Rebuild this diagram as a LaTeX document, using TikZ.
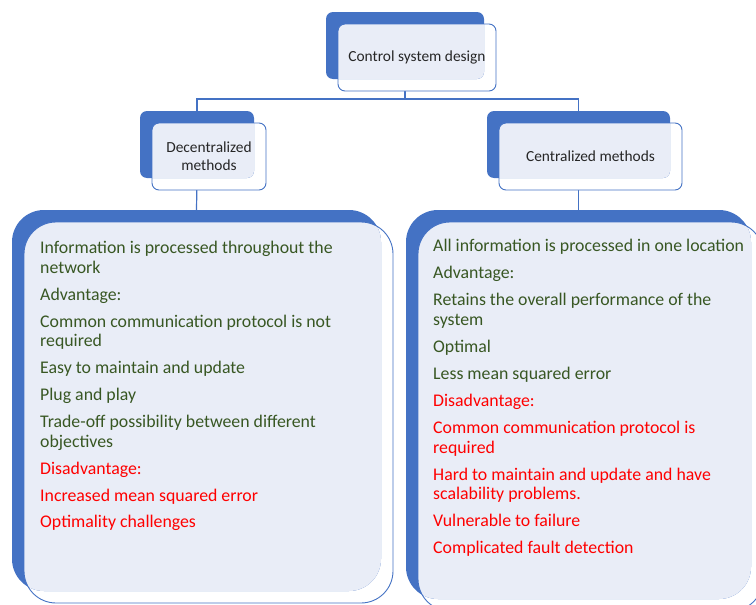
\documentclass[tikz,border=0pt]{standalone}
\usepackage{fontspec}
\setmainfont{Carlito}
\usetikzlibrary{calc}
\definecolor{accent}{HTML}{4472C4}
\definecolor{panel}{HTML}{E9EDF7}
\definecolor{pro}{HTML}{385723}
\definecolor{con}{HTML}{FF0000}
\definecolor{ink}{HTML}{262626}

\tikzset{
  box/.style={rectangle, inner sep=0pt, outer sep=0pt},
  link/.style={draw=accent, line width=1.2pt},
  outline/.style={draw=accent, line width=0.9pt},
  label/.style={inner sep=0pt, text=ink, align=center, font=\fontsize{15.4}{18}\selectfont},
  item/.style={anchor=base west, inner sep=0pt, font=\fontsize{17.8}{19.5}\selectfont},
  good/.style={item, text=pro},
  bad/.style={item, text=con},
}

% back card, panel-coloured overlap with the front card, and the front outline
\newcommand{\cardlayers}[3]{%
  \fill[accent, rounded corners=#3] (#1.north west) rectangle (#1.south east);
  \begin{scope}
    \clip[rounded corners=#3] (#1.north west) rectangle (#1.south east);
    \fill[panel, rounded corners=#3] (#2.north west) rectangle (#2.south east);
  \end{scope}
  \draw[outline, rounded corners=#3] (#2.north west) rectangle (#2.south east);
}

\begin{document}
\begin{tikzpicture}[x=1pt, y=-1pt]
\useasboundingbox (0,0) rectangle (756,605);

% shape geometry (named nodes, drawn later in layers)
\node[box, minimum width=158pt, minimum height=67pt, anchor=north west] (top-b) at (326,12) {};
\node[box, minimum width=158pt, minimum height=67pt, anchor=north west] (top-f) at (338,24) {};
\node[box, minimum width=114pt, minimum height=67pt, anchor=north west] (dec-b) at (140,111) {};
\node[box, minimum width=114pt, minimum height=67pt, anchor=north west] (dec-f) at (152,123) {};
\node[box, minimum width=183pt, minimum height=67pt, anchor=north west] (cen-b) at (487,111) {};
\node[box, minimum width=183pt, minimum height=67pt, anchor=north west] (cen-f) at (499,123) {};
\node[box, minimum width=369pt, minimum height=381pt, anchor=north west] (left-b) at (12,210) {};
\node[box, minimum width=369pt, minimum height=381pt, anchor=north west] (left-f) at (24,222) {};
\node[box, minimum width=345pt, minimum height=389pt, anchor=north west] (right-b) at (406,210) {};
\node[box, minimum width=345pt, minimum height=389pt, anchor=north west] (right-f) at (418,222) {};

% connectors
\coordinate (bus) at ($(top-b.south)+(0,20)$);
\draw[link] (top-b.south) -- (bus) -| (dec-b.north);
\draw[link] (bus) -| (cen-b.north);
\draw[link] (dec-b.south) -- (left-b.north);
\draw[link] (cen-b.south) -- (right-b.north);

% white ground of the front cards hides the connector ends
\foreach \f/\r in {top-f/7pt, dec-f/7pt, cen-f/7pt, left-f/32pt, right-f/32pt}
  \fill[white, rounded corners=\r] (\f.north west) rectangle (\f.south east);

\cardlayers{top-b}{top-f}{7pt}
\cardlayers{dec-b}{dec-f}{7pt}
\cardlayers{cen-b}{cen-f}{7pt}
\cardlayers{left-b}{left-f}{32pt}
\cardlayers{right-b}{right-f}{32pt}

% card titles
\node[label] (top-t) at (top-f.center) {Control system design};
\node[label] (dec-t) at (dec-f.center) {Decentralized\\methods};
\node[label] (cen-t) at (cen-f.center) {Centralized methods};

% decentralized methods
\node[good] (l1)  at (40,253.5) {Information is processed throughout the};
\node[good] (l2)  at (40,273)   {network};
\node[good] (l3)  at (40,300)   {Advantage:};
\node[good] (l4)  at (40,327)   {Common communication protocol is not};
\node[good] (l5)  at (40,346.5) {required};
\node[good] (l6)  at (40,373.5) {Easy to maintain and update};
\node[good] (l7)  at (40,400.5) {Plug and play};
\node[good] (l8)  at (40,427.5) {Trade-off possibility between different};
\node[good] (l9)  at (40,447)   {objectives};
\node[bad]  (l10) at (40,474)   {Disadvantage:};
\node[bad]  (l11) at (40,501)   {Increased mean squared error};
\node[bad]  (l12) at (40,527.5) {Optimality challenges};

% centralized methods
\node[good] (r1)  at (433,251.5) {All information is processed in one location};
\node[good] (r2)  at (433,278.5) {Advantage:};
\node[good] (r3)  at (433,305.5) {Retains the overall performance of the};
\node[good] (r4)  at (433,325.5) {system};
\node[good] (r5)  at (433,352.5) {Optimal};
\node[good] (r6)  at (433,379.5) {Less mean squared error};
\node[bad]  (r7)  at (433,406.5) {Disadvantage:};
\node[bad]  (r8)  at (433,433.5) {Common communication protocol is};
\node[bad]  (r9)  at (433,453)   {required};
\node[bad]  (r10) at (433,480)   {Hard to maintain and update and have};
\node[bad]  (r11) at (433,499.5) {scalability problems.};
\node[bad]  (r12) at (433,526.5) {Vulnerable to failure};
\node[bad]  (r13) at (433,553.5) {Complicated fault detection};
\end{tikzpicture}
\end{document}
